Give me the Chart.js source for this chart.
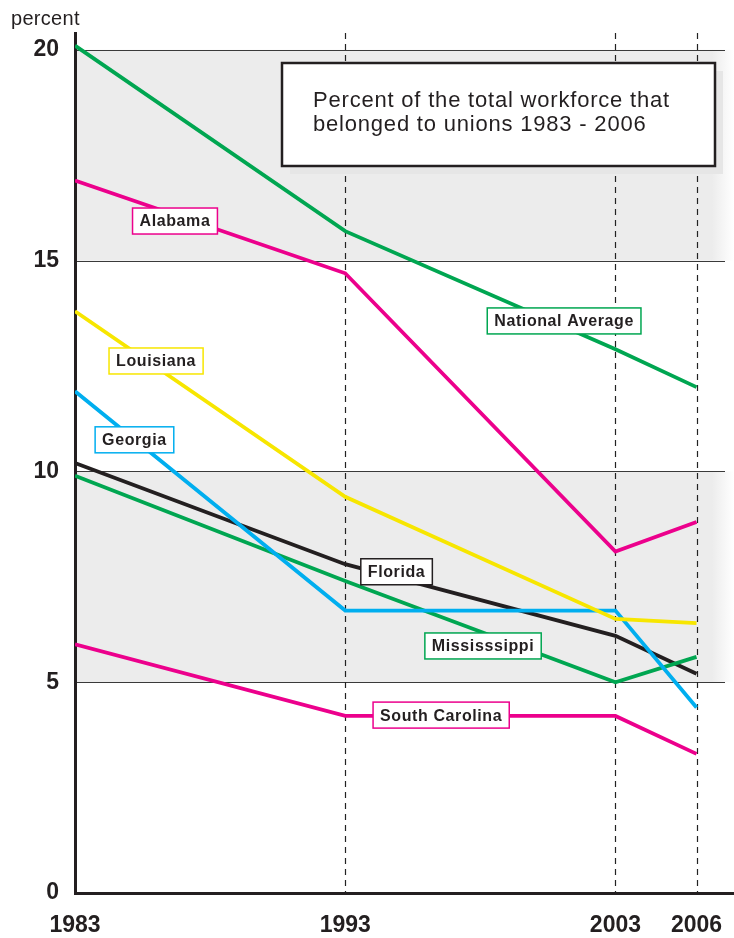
<!DOCTYPE html>
<html>
<head>
<meta charset="utf-8">
<script src="https://cdn.jsdelivr.net/npm/chart.js@4"></script>
<style>
  html, body { margin: 0; padding: 0; background: #fff; }
  #wrap { width: 734px; height: 938px; position: relative; }
</style>
</head>
<body>
<div id="wrap"><canvas id="unions"></canvas></div>
<script>
/***** Data *****/
const years = [1983, 1993, 2003, 2006];
const yTicks = [0, 5, 10, 15, 20];
const nationalAverage = [20.1, 15.7, 12.9, 12.0];
const alabama = [16.9, 14.7, 8.1, 8.8];
const louisiana = [13.8, 9.4, 6.5, 6.4];
const georgia = [11.9, 6.7, 6.7, 4.4];
const florida = [10.2, 7.8, 6.1, 5.2];
const mississippi = [9.9, 7.4, 5.0, 5.6];
const southCarolina = [5.9, 4.2, 4.2, 3.3];

const FONT = '"Liberation Sans", Arial, sans-serif';
const GREEN = '#00a651', MAGENTA = '#ec008c', YELLOW = '#f7e600', CYAN = '#00aeef', BLACK = '#231f20';

// tag anchors in data space [year, percent]
const tags = [
    {text: 'Alabama', at: [1986.7, 15.94], color: MAGENTA},
    {text: 'National Average', at: [2001.1, 13.57], color: GREEN},
    {text: 'Louisiana', at: [1986.0, 12.62], color: YELLOW},
    {text: 'Georgia', at: [1985.2, 10.75], color: CYAN},
    {text: 'Florida', at: [1994.9, 7.62], color: BLACK},
    {text: 'Mississsippi', at: [1998.1, 5.86], color: GREEN},
    {text: 'South Carolina', at: [1996.55, 4.22], color: MAGENTA}
];

function series(values) { //pair the years with one state's values
    return values.map(function (v, i) { return {x: years[i], y: v}; });
}

function lineSet(label, values, color) {
    return {
        label: label,
        data: series(values),
        borderColor: color,
        borderWidth: 3.8,
        pointRadius: 0,
        tension: 0,
        fill: false
    };
}

// background bands, grid lines and dashed year markers
const backdrop = {
    id: 'backdrop',
    beforeDatasetsDraw: function (chart) {
        const ctx = chart.ctx, area = chart.chartArea;
        const xs = chart.scales.x, ys = chart.scales.y;
        const gridRight = 725;
        const bandLeft = area.left + 2;
        ctx.save();
        let grad = ctx.createLinearGradient(712, 0, 734, 0);
        grad.addColorStop(0, '#ececec');
        grad.addColorStop(1, '#ffffff');
        [[15, 20], [5, 10]].forEach(function (b) {
            let top = ys.getPixelForValue(b[1]);
            let bot = ys.getPixelForValue(b[0]);
            ctx.fillStyle = '#ececec';
            ctx.fillRect(bandLeft, top, 712 - bandLeft, bot - top);
            ctx.fillStyle = grad;
            ctx.fillRect(712, top, 22, bot - top);
        });
        ctx.strokeStyle = '#3a3a3a';
        ctx.lineWidth = 1.2;
        yTicks.forEach(function (v) {
            if (v == 0) return;
            let y = Math.round(ys.getPixelForValue(v)) + 0.5;
            ctx.beginPath();
            ctx.moveTo(bandLeft, y);
            ctx.lineTo(gridRight, y);
            ctx.stroke();
        });
        ctx.strokeStyle = '#222';
        ctx.setLineDash([6, 5]);
        years.forEach(function (yr, i) {
            if (i == 0) return;
            let x = Math.round(xs.getPixelForValue(yr)) + 0.5;
            ctx.beginPath();
            ctx.moveTo(x, area.top);
            ctx.lineTo(x, area.bottom);
            ctx.stroke();
        });
        ctx.restore();
    },
    afterDatasetsDraw: function (chart) {
        const ctx = chart.ctx;
        const xs = chart.scales.x, ys = chart.scales.y;
        ctx.save();
        // title box with soft shadow
        ctx.fillStyle = '#e6e6e6';
        ctx.fillRect(290, 71, 433, 103);
        ctx.fillStyle = '#fff';
        ctx.fillRect(282, 63, 433, 103);
        ctx.strokeStyle = BLACK;
        ctx.lineWidth = 2.5;
        ctx.strokeRect(282, 63, 433, 103);
        ctx.fillStyle = BLACK;
        ctx.font = '22px ' + FONT;
        ctx.letterSpacing = '0.8px';
        ctx.textAlign = 'left';
        ctx.textBaseline = 'alphabetic';
        ctx.fillText('Percent of the total workforce that', 313, 107);
        ctx.fillText('belonged to unions 1983 - 2006', 313, 131);
        // axis caption
        ctx.font = '20px ' + FONT;
        ctx.letterSpacing = '0.3px';
        ctx.fillText('percent', 11, 25);
        // series tags
        ctx.font = 'bold 16px ' + FONT;
        ctx.letterSpacing = '0.6px';
        ctx.textAlign = 'center';
        ctx.textBaseline = 'middle';
        tags.forEach(function (t) {
            let cx = xs.getPixelForValue(t.at[0]);
            let cy = ys.getPixelForValue(t.at[1]);
            let w = ctx.measureText(t.text).width + 14;
            let h = 26;
            ctx.fillStyle = '#fff';
            ctx.fillRect(cx - w / 2, cy - h / 2, w, h);
            ctx.strokeStyle = t.color;
            ctx.lineWidth = 1.5;
            ctx.strokeRect(cx - w / 2, cy - h / 2, w, h);
            ctx.fillStyle = BLACK;
            ctx.fillText(t.text, cx, cy + 1);
        });
        ctx.restore();
    }
};

new Chart(document.getElementById('unions'), {
    type: 'line',
    data: {
        datasets: [
            lineSet('National Average', nationalAverage, GREEN),
            lineSet('Alabama', alabama, MAGENTA),
            lineSet('Louisiana', louisiana, YELLOW),
            lineSet('Georgia', georgia, CYAN),
            lineSet('Mississippi', mississippi, GREEN),
            lineSet('Florida', florida, BLACK),
            lineSet('South Carolina', southCarolina, MAGENTA)
        ]
    },
    options: {
        responsive: true,
        maintainAspectRatio: false,
        animation: false,
        layout: {padding: {top: 33, right: 1, left: 0, bottom: 0}},
        plugins: {legend: {display: false}, tooltip: {enabled: false}},
        scales: {
            x: {
                type: 'linear',
                min: 1983,
                max: 2007.35,
                grid: {display: false},
                border: {display: true, width: 3, color: BLACK},
                afterBuildTicks: function (s) { s.ticks = years.map(function (v) { return {value: v}; }); },
                afterFit: function (s) { s.height = 45; s.paddingLeft = 0; s.paddingRight = 0; },
                ticks: {
                    autoSkip: false,
                    maxRotation: 0,
                    padding: 11,
                    color: BLACK,
                    font: {family: FONT, size: 23, weight: 'bold'},
                    callback: function (v) { return String(v); }
                }
            },
            y: {
                min: 0,
                max: 20.4,
                grid: {display: false},
                border: {display: true, width: 3, color: BLACK},
                afterBuildTicks: function (s) { s.ticks = yTicks.map(function (v) { return {value: v}; }); },
                afterFit: function (s) { s.width = 75; s.paddingTop = 0; s.paddingBottom = 0; },
                ticks: {
                    padding: 8,
                    color: BLACK,
                    font: {family: FONT, size: 23, weight: 'bold'}
                }
            }
        }
    },
    plugins: [backdrop]
});
</script>
</body>
</html>
